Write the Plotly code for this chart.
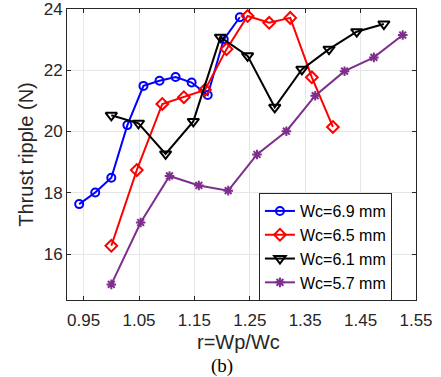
import plotly.graph_objects as go

# Data
x_69 = [0.942, 0.971, 1.000, 1.029, 1.058, 1.087, 1.116, 1.145, 1.174, 1.203, 1.232]
y_69 = [17.63, 18.01, 18.49, 20.21, 21.49, 21.66, 21.78, 21.60, 21.19, 23.01, 23.73]

x_65 = [1.000, 1.046, 1.092, 1.131, 1.169, 1.208, 1.246, 1.285, 1.323, 1.362, 1.400]
y_65 = [16.27, 18.74, 20.90, 21.12, 21.36, 22.69, 23.77, 23.55, 23.71, 21.77, 20.15]

x_61 = [1.000, 1.049, 1.098, 1.148, 1.197, 1.246, 1.295, 1.344, 1.393, 1.443, 1.492]
y_61 = [20.53, 20.27, 19.27, 20.33, 23.08, 22.47, 20.79, 22.03, 22.69, 23.26, 23.51]

x_57 = [1.000, 1.053, 1.105, 1.158, 1.211, 1.263, 1.316, 1.368, 1.421, 1.474, 1.526]
y_57 = [15.01, 17.03, 18.55, 18.24, 18.07, 19.25, 20.01, 21.17, 21.97, 22.42, 23.15]

x_ticks = [0.95, 1.05, 1.15, 1.25, 1.35, 1.45, 1.55]
y_ticks = [16, 18, 20, 22, 24]

series = [
    ("Wc=6.9 mm", x_69, y_69, "#0000FF", "circle-open", 8),
    ("Wc=6.5 mm", x_65, y_65, "#FF0000", "diamond-open", 9),
    ("Wc=6.1 mm", x_61, y_61, "#000000", "triangle-down-open", 10),
    ("Wc=5.7 mm", x_57, y_57, "#7E2F8E", "asterisk-open", 8),
]

fig = go.Figure()
for name, xs, ys, col, sym, sz in series:
    fig.add_trace(go.Scatter(
        x=xs, y=ys, name=name, mode="lines+markers",
        line=dict(color=col, width=2),
        marker=dict(symbol=sym, size=sz, color=col, line=dict(color=col, width=2)),
    ))

axis_common = dict(
    showline=True, linecolor="#262626", linewidth=1, mirror="ticks",
    ticks="inside", ticklen=4, tickcolor="#262626",
    showgrid=True, gridcolor="#E6E6E6", gridwidth=1, zeroline=False,
    ticklabeloverflow="allow", automargin=False,
    tickfont=dict(family="Liberation Sans, Arial", size=17, color="#262626"),
)

fig.update_xaxes(range=[0.92, 1.55], tickvals=x_ticks,
                 ticktext=[f"{v:.2f}" for v in x_ticks],
                 ticklabelstandoff=5, **axis_common)
fig.update_yaxes(range=[14.5, 24], tickvals=y_ticks,
                 title=dict(text="Thrust ripple (N)", standoff=4,
                            font=dict(family="Liberation Sans, Arial", size=20, color="#262626")),
                 **axis_common)

fig.update_layout(
    width=441, height=377,
    margin=dict(l=67, r=25, t=9, b=77, autoexpand=False),
    paper_bgcolor="white", plot_bgcolor="white",
    showlegend=True,
    legend=dict(x=0.55, y=0.182, xanchor="left", yanchor="middle",
                bgcolor="white", bordercolor="#262626", borderwidth=1,
                font=dict(family="Liberation Sans, Arial", size=16, color="#000000"),
                itemwidth=30, tracegroupgap=0),
    annotations=[
        dict(text="r=Wp/Wc", xref="paper", yref="paper", x=0.49, y=-0.146,
             xanchor="center", yanchor="middle", showarrow=False,
             font=dict(family="Liberation Sans, Arial", size=20, color="#262626")),
        dict(text="(b)", xref="paper", yref="paper", x=0.444, y=-0.228,
             xanchor="center", yanchor="middle", showarrow=False,
             font=dict(family="Liberation Serif, Times New Roman", size=19, color="#000000")),
    ],
)

fig.write_html("out.html")
